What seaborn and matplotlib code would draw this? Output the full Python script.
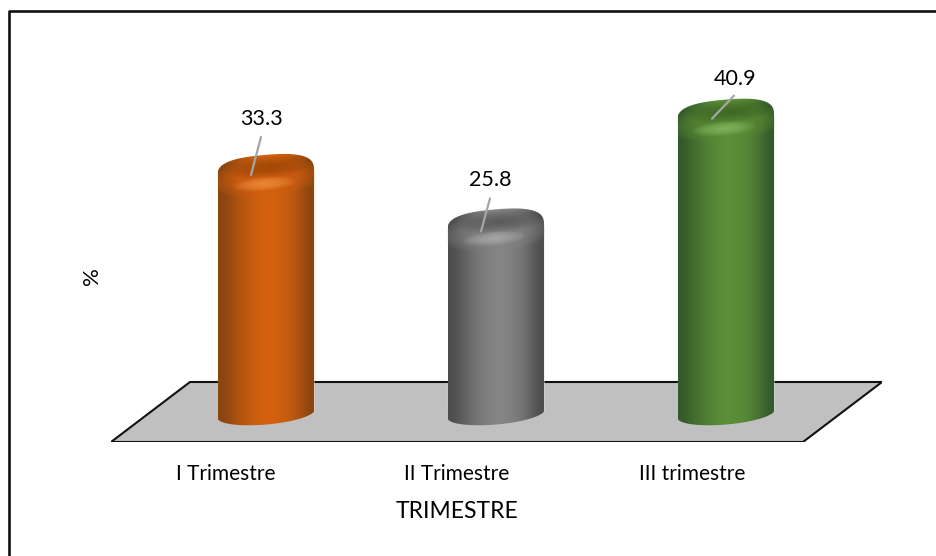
import numpy as np
import pandas as pd
import matplotlib
matplotlib.use('Agg')
import matplotlib.pyplot as plt
import seaborn as sns
from matplotlib.colors import LinearSegmentedColormap
from matplotlib.lines import Line2D
from matplotlib.patches import Ellipse, Polygon
from matplotlib.path import Path
from matplotlib.transforms import Affine2D, IdentityTransform

# values
trimestres = ['I Trimestre', 'II Trimestre', 'III trimestre']
valores = [33.3, 25.8, 40.9]
colores_medio = ['#d4610f', '#858585', '#5c8f38']
colores_borde = ['#8a4510', '#4d4d4d', '#35592a']
colores_luz = ['#f79a4a', '#b5b5b5', '#8fc26a']
colores_sombra = ['#8a4208', '#4a4a4a', '#37591f']

W, H = 936, 556
sns.set_theme(style='white')
plt.rcParams['font.family'] = ['Lato', 'DejaVu Sans']

fig = plt.figure(figsize=(W / 100, H / 100), dpi=100)
# axes run from the floor's left/right tips up to near the top of the frame
ax = fig.add_axes([111 / W, 1 - 442 / H, 771 / W, 402 / H])
df = pd.DataFrame({'trimestre': trimestres, 'valor': valores})
sns.barplot(data=df, x='trimestre', y='valor', hue='trimestre', palette=colores_medio,
            legend=False, dodge=False, width=96 / 230, saturation=1, ax=ax, zorder=2)
xlim = (-155 / 230, 616 / 230)
ylim = (-28 / 7.27, 374 / 7.27)
ax.set_xlim(xlim)
ax.set_ylim(ylim)

sns.despine(ax=ax, left=True, bottom=True)
ax.set_yticks([])
ax.tick_params(axis='x', length=0, pad=16, labelsize=15, labelcolor='black')
# the labels sit under the front edge of the floor, left of the bars
for lab, dx in zip(ax.get_xticklabels(), [-40, -39, -34]):
    lab.set_transform(lab.get_transform() + Affine2D().translate(dx, 0))
ax.set_xlabel('TRIMESTRE', fontsize=16.5, color='black')
ax.xaxis.set_label_coords(346 / 771, -69 / 402, transform=ax.transAxes)
ax.xaxis.label.set_verticalalignment('center')
ax.set_ylabel('%', fontsize=16, color='black')
ax.yaxis.set_label_coords(-19 / 771, 166 / 402)
ax.yaxis.label.set_verticalalignment('center')

# floor, in axes fractions
floor = Polygon([(0, 0), (692 / 771, 0), (1, 60 / 402), (79 / 771, 60 / 402)], closed=True,
                transform=ax.transAxes, facecolor='#c0c0c0', edgecolor='#111111', lw=1.5, zorder=1)
ax.add_patch(floor)


def rotar(x, y, cx, cy, ang=np.radians(5)):
    return (cx + x * np.cos(ang) - y * np.sin(ang), cy + x * np.sin(ang) + y * np.cos(ang))


def silueta(cx, base, top):
    # rounded cap on top, elliptic arc at the bottom (display pixels)
    t1 = np.linspace(0, np.pi, 80)
    x1 = 48.5 * np.sign(np.cos(t1)) * np.abs(np.cos(t1)) ** 0.8
    y1 = 20 * np.sin(t1) ** 0.6
    xa, ya = rotar(x1, y1, cx, top - 3)
    t2 = np.linspace(np.pi, 2 * np.pi, 60)
    xb, yb = rotar(48.5 * np.cos(t2), 10.5 * np.sin(t2), cx, base)
    pts = np.vstack([np.column_stack([xa, ya]), np.column_stack([xb, yb]), [[xa[0], ya[0]]]])
    return Path(pts, closed=True)


def mancha(cx, cy, w, h, color, alpha, sil, n=14):
    # soft blob built from stacked ellipses
    for k in range(n):
        f = 1 - k / n
        e = Ellipse((cx, cy), w * f, h * f, angle=5, facecolor=color, edgecolor='none',
                    alpha=alpha, transform=IdentityTransform(), zorder=4)
        ax.add_patch(e)
        e.set_clip_path(sil, IdentityTransform())


perfil = np.array([[0.0, 0.2, 0.42, 0.62, 0.8, 0.93, 1.0, 0.98, 0.92, 0.8, 0.6, 0.3, 0.0]])
desp_linea = [((-5, 35), (-15, -3)), ((-6, 28), (-15, -5)), ((8, 21), (-14, -2))]
desp_texto = [(-5, 53), (-6, 46), (9, 38)]

for i, barra in enumerate(ax.patches[:3]):
    x0, x1 = barra.get_x(), barra.get_x() + barra.get_width()
    cx_d, base_d = ax.transData.transform((i, 0))
    _, top_d = ax.transData.transform((i, valores[i]))
    sil = silueta(cx_d, base_d, top_d)
    barra.set_clip_path(sil, IdentityTransform())

    cmap = LinearSegmentedColormap.from_list('c', [colores_borde[i], colores_medio[i]])
    img = ax.imshow(perfil, cmap=cmap, aspect='auto', interpolation='bicubic',
                    extent=(x0, x1, -3, valores[i] + 5), zorder=3)
    img.set_clip_path(sil, IdentityTransform())

    # rim, top face of the cylinder, then the highlight on the rim
    mancha(cx_d, top_d - 6, 112, 38, colores_medio[i], 0.12, sil)
    mancha(cx_d + 4, top_d + 5, 86, 22, colores_sombra[i], 0.07, sil)
    mancha(cx_d - 2, top_d - 12, 64, 14, colores_luz[i], 0.09, sil)

    ax.annotate(f'{valores[i]}', xy=(i, valores[i]), xytext=desp_texto[i], textcoords='offset pixels',
                ha='center', va='center', fontsize=15.5, color='black', zorder=6)
    ini, fin = desp_linea[i]
    ax.add_line(Line2D([cx_d + ini[0], cx_d + fin[0]], [top_d + ini[1], top_d + fin[1]],
                       color='#a6a6a6', lw=1.6, transform=IdentityTransform(), zorder=5))

# imshow changes the limits, put them back
ax.set_xlim(xlim)
ax.set_ylim(ylim)

# frame: only the left and top lines fall inside the picture
fig.add_artist(Line2D([9 / W, 9 / W, 1], [0, 1 - 11 / H, 1 - 11 / H], color='#111111', lw=1.9))

fig.savefig('out.png', dpi=100)
